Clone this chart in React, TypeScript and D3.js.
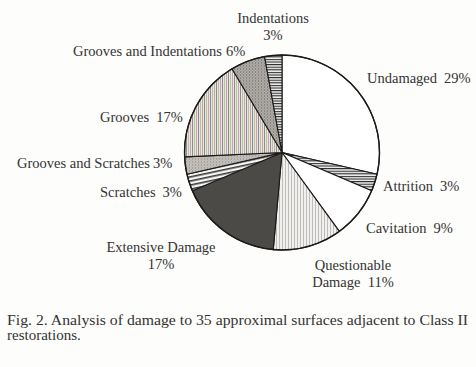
import React from "react";
import * as d3 from "d3";

const categories = [
  "Undamaged",
  "Attrition",
  "Cavitation",
  "Questionable Damage",
  "Extensive Damage",
  "Scratches",
  "Grooves and Scratches",
  "Grooves",
  "Grooves and Indentations",
  "Indentations",
];
const counts = [10, 1, 3, 4, 6, 1, 1, 6, 2, 1];
const percentLabels = ["29%", "3%", "9%", "11%", "17%", "3%", "3%", "17%", "6%", "3%"];
const fills = [
  "#ffffff",
  "url(#hDense)",
  "#ffffff",
  "url(#vLight)",
  "#4c4a47",
  "url(#hScr)",
  "url(#stipLight)",
  "url(#vGroove)",
  "url(#stipDark)",
  "url(#hDense)",
];
type Lbl = { x: number; y: number; anchor: string; twoLine: boolean; gap?: number };
const labelLayout: Lbl[] = [
  { x: 367, y: 83, anchor: "start", twoLine: false, gap: 7 },
  { x: 383, y: 191, anchor: "start", twoLine: false, gap: 7 },
  { x: 366, y: 233, anchor: "start", twoLine: false, gap: 7 },
  { x: 353, y: 270, anchor: "middle", twoLine: true },
  { x: 161, y: 252, anchor: "middle", twoLine: true },
  { x: 100, y: 197, anchor: "start", twoLine: false, gap: 7 },
  { x: 17, y: 168, anchor: "start", twoLine: false, gap: 3 },
  { x: 100, y: 122, anchor: "start", twoLine: false, gap: 7 },
  { x: 73, y: 56, anchor: "start", twoLine: false, gap: 4 },
  { x: 273, y: 23, anchor: "middle", twoLine: true },
];
const captionLines = [
  "Fig. 2. Analysis of damage to 35 approximal surfaces adjacent to Class II",
  "restorations.",
];

const W = 476;
const H = 367;
const cx = 282;
const cy = 152.5;
const R = 97.5;
const FONT = '"Liberation Serif"';

export default function App() {
  const pie = d3
    .pie<number>()
    .sort(null)
    .value((d) => d)
    .startAngle(0)
    .endAngle(2 * Math.PI);
  const arcs = pie(counts);
  const arc = d3.arc<d3.PieArcDatum<number>>().innerRadius(0).outerRadius(R);

  const twoLineSplit = (i: number): [string, string] => {
    if (categories[i] === "Questionable Damage") return ["Questionable", "Damage\u2002" + percentLabels[i]];
    if (categories[i] === "Extensive Damage") return ["Extensive Damage", percentLabels[i]];
    return [categories[i], percentLabels[i]];
  };

  const labelStyle = { fontFamily: FONT, fontSize: "14.5px" };

  return (
    <svg
      width={W}
      height={H}
      style={{ position: "absolute", left: 0, top: 0, background: "#fdfdfb" }}
    >
      <defs>
        <pattern id="hDense" width="4" height="2.6" patternUnits="userSpaceOnUse">
          <rect width="4" height="2.6" fill="#f4f4f2" />
          <rect width="4" height="1.1" fill="#2a2a2a" />
        </pattern>
        <pattern id="hScr" width="4" height="4" patternUnits="userSpaceOnUse" patternTransform="rotate(-12)">
          <rect width="4" height="4" fill="#f6f6f4" />
          <rect width="4" height="1.6" fill="#3a3a3a" />
        </pattern>
        <pattern id="vLight" width="3" height="4" patternUnits="userSpaceOnUse">
          <rect width="3" height="4" fill="#f1f0ee" />
          <rect width="0.9" height="4" fill="#b9b7b3" />
        </pattern>
        <pattern id="vGroove" width="6" height="4" patternUnits="userSpaceOnUse">
          <rect width="6" height="4" fill="#e8e6e0" />
          <rect x="0" width="1" height="4" fill="#8e8c86" />
          <rect x="2" width="1" height="4" fill="#b7c29a" />
          <rect x="4" width="1" height="4" fill="#c6a2b4" />
        </pattern>
        <pattern id="stipLight" width="3" height="3" patternUnits="userSpaceOnUse">
          <rect width="3" height="3" fill="#c9c6c1" />
          <rect x="0" y="0" width="1" height="1" fill="#7d7a76" />
          <rect x="1.5" y="1.5" width="1" height="1" fill="#8f8c88" />
        </pattern>
        <pattern id="stipDark" width="3" height="3" patternUnits="userSpaceOnUse">
          <rect width="3" height="3" fill="#b4b1ac" />
          <rect x="0" y="0" width="1" height="1" fill="#5c5956" />
          <rect x="1.5" y="1.5" width="1" height="1" fill="#6e6b67" />
        </pattern>
      </defs>
      <g transform={`translate(${cx},${cy})`}>
        {arcs.map((a, i) => (
          <path key={categories[i]} d={arc(a) || ""} fill={fills[i]} stroke="#1a1a1a" strokeWidth={1.1} strokeLinejoin="round" />
        ))}
        <circle r={R} fill="none" stroke="#1a1a1a" strokeWidth={1.4} />
      </g>
      <g fill="#333">
        {labelLayout.map((l, i) => {
          if (l.twoLine) {
            const [a, b] = twoLineSplit(i);
            return (
              <text key={i} x={l.x} y={l.y} textAnchor={l.anchor} style={labelStyle}>
                <tspan x={l.x}>{a}</tspan>
                <tspan x={l.x} dy={17}>{b}</tspan>
              </text>
            );
          }
          return (
            <text key={i} x={l.x} y={l.y} textAnchor={l.anchor} style={labelStyle}>
              {categories[i]}
              <tspan dx={l.gap}>{percentLabels[i]}</tspan>
            </text>
          );
        })}
      </g>
      <g fill="#333">
        <text x={7} y={325} textLength={461} lengthAdjust="spacingAndGlyphs" style={{ fontFamily: FONT, fontSize: "15px" }}>
          {captionLines[0]}
        </text>
        <text x={7} y={340} style={{ fontFamily: FONT, fontSize: "15px" }}>
          {captionLines[1]}
        </text>
      </g>
    </svg>
  );
}
